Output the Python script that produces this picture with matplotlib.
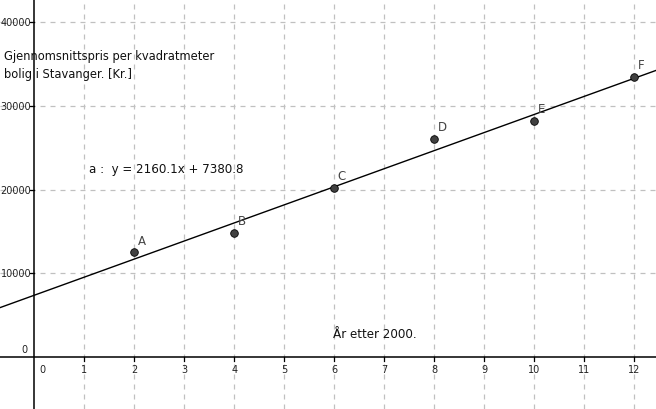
import matplotlib
matplotlib.use("Agg")
import matplotlib.pyplot as plt
import numpy as np

# data
years = [2, 4, 6, 8, 10, 12]
prices = [12500, 14780, 20150, 26010, 28160, 33420]
point_names = ["A", "B", "C", "D", "E", "F"]
slope, intercept = 2160.1, 7380.8
x_ticks = list(range(0, 13))
y_ticks = [0, 10000, 20000, 30000, 40000]

fig = plt.figure(figsize=(6.56, 4.10), dpi=100)
ax = fig.add_axes([0, 0, 1, 1])
ax.set_xlim(-0.686, 12.434)
ax.set_ylim(-6213, 42772)

# dashed grid
for xv in x_ticks[1:]:
    ax.axvline(xv, color="#c0c0c0", lw=0.9, ls=(0, (4, 4)), zorder=0)
for yv in y_ticks[1:]:
    ax.axhline(yv, color="#c0c0c0", lw=0.9, ls=(0, (4, 4)), zorder=0)

# axes through origin
ax.axhline(0, color="black", lw=1.1, zorder=1)
ax.axvline(0, color="black", lw=1.1, zorder=1)
for s in ax.spines.values():
    s.set_visible(False)
ax.set_xticks([])
ax.set_yticks([])

# tick marks and labels
for xv in x_ticks[1:]:
    ax.plot([xv, xv], [0, -450], color="black", lw=0.9)
    ax.text(xv, -800, str(xv), ha="center", va="top", fontsize=7, color="#222")
ax.text(0.16, -800, "0", ha="center", va="top", fontsize=7, color="#222")
for yv in y_ticks[1:]:
    ax.plot([-0.08, 0], [yv, yv], color="black", lw=0.9)
    ax.text(-0.06, yv, str(yv), ha="right", va="center", fontsize=7, color="#222")
ax.text(-0.14, 400, "0", ha="right", va="bottom", fontsize=7, color="#222")

# regression line
xs = np.array(ax.get_xlim())
ax.plot(xs, slope * xs + intercept, color="black", lw=1.0, zorder=2)

# points
ax.scatter(years, prices, s=30, color="#404040", edgecolor="black", lw=0.6, zorder=3)
for xv, yv, name in zip(years, prices, point_names):
    ax.text(xv + 0.07, yv + 700, name, fontsize=8.5, color="#444", ha="left", va="bottom")

ax.text(-0.6, 35000, "Gjennomsnittspris per kvadratmeter\nbolig i Stavanger. [Kr.]",
        fontsize=8.3, color="#111", ha="left", va="center", linespacing=1.5)
ax.text(1.1, 22500, "a :  y = 2160.1x + 7380.8", fontsize=8.6, color="#111",
        ha="left", va="center")
ax.text(5.97, 2800, "År etter 2000.", fontsize=8.6, color="#111", ha="left", va="center")

fig.savefig("out.png", dpi=100)
